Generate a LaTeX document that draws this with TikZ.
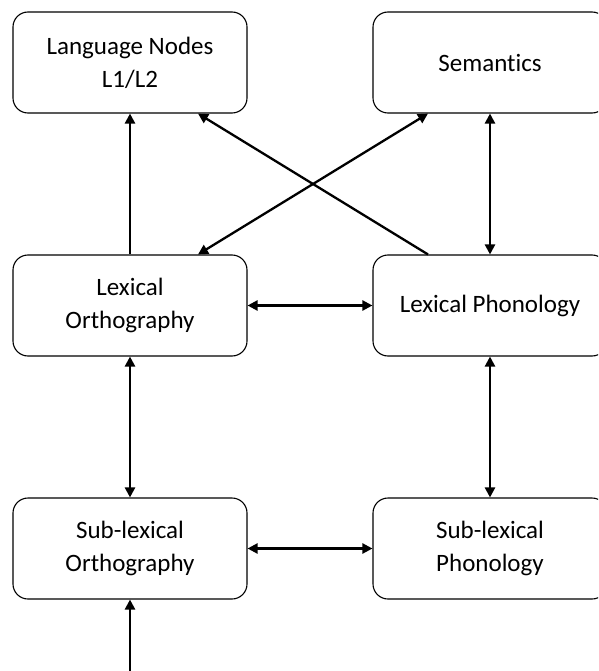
\documentclass[tikz,border=0pt]{standalone}
\usepackage{fontspec}
\setmainfont[Ligatures=NoCommon]{Carlito}
\usetikzlibrary{arrows.meta}
\begin{document}
\begin{tikzpicture}[x=1pt,y=-1pt,
  box/.style={draw, line width=1.1pt, rounded corners=15pt,
    minimum width=234pt, minimum height=101pt, align=center,
    font=\fontsize{25}{33}\selectfont, inner sep=0pt},
  tip/.style={Triangle[length=10pt,width=10pt]},
  link/.style={line width=2.3pt, -{Triangle[length=10pt,width=10pt]}},
  both/.style={line width=2.3pt, {Triangle[length=10pt,width=10pt]}-{Triangle[length=10pt,width=10pt]}}]
  \useasboundingbox (0,0) rectangle (598,671);
  \clip (0,0) rectangle (598,671);

  % boxes
  \node[box] (lang) at (130,62.5) {Language Nodes\\L1/L2};
  \node[box] (sem)  at (490,62.5) {Semantics};
  \node[box] (lorth) at (130,305.5) {Lexical\\Orthography};
  \node[box] (lphon) at (490,305.5) {Lexical Phonology};
  \node[box] (sorth) at (130,548.5) {Sub-lexical\\Orthography};
  \node[box] (sphon) at (490,548.5) {Sub-lexical\\Phonology};

  \coordinate (input) at (130,671);

  % connections
  \draw[link] (lorth.north) -- (lang.south);
  \draw[link] ([xshift=-62pt]lphon.north) -- ([xshift=68pt]lang.south);
  \draw[both] ([xshift=-62pt]sem.south) -- ([xshift=68pt]lorth.north);
  \draw[both] (sem.south) -- (lphon.north);
  \draw[both] (lorth.east) -- (lphon.west);
  \draw[both] (lorth.south) -- (sorth.north);
  \draw[both] (lphon.south) -- (sphon.north);
  \draw[both] (sorth.east) -- (sphon.west);
  \draw[link] (input) -- (sorth.south);
\end{tikzpicture}
\end{document}
